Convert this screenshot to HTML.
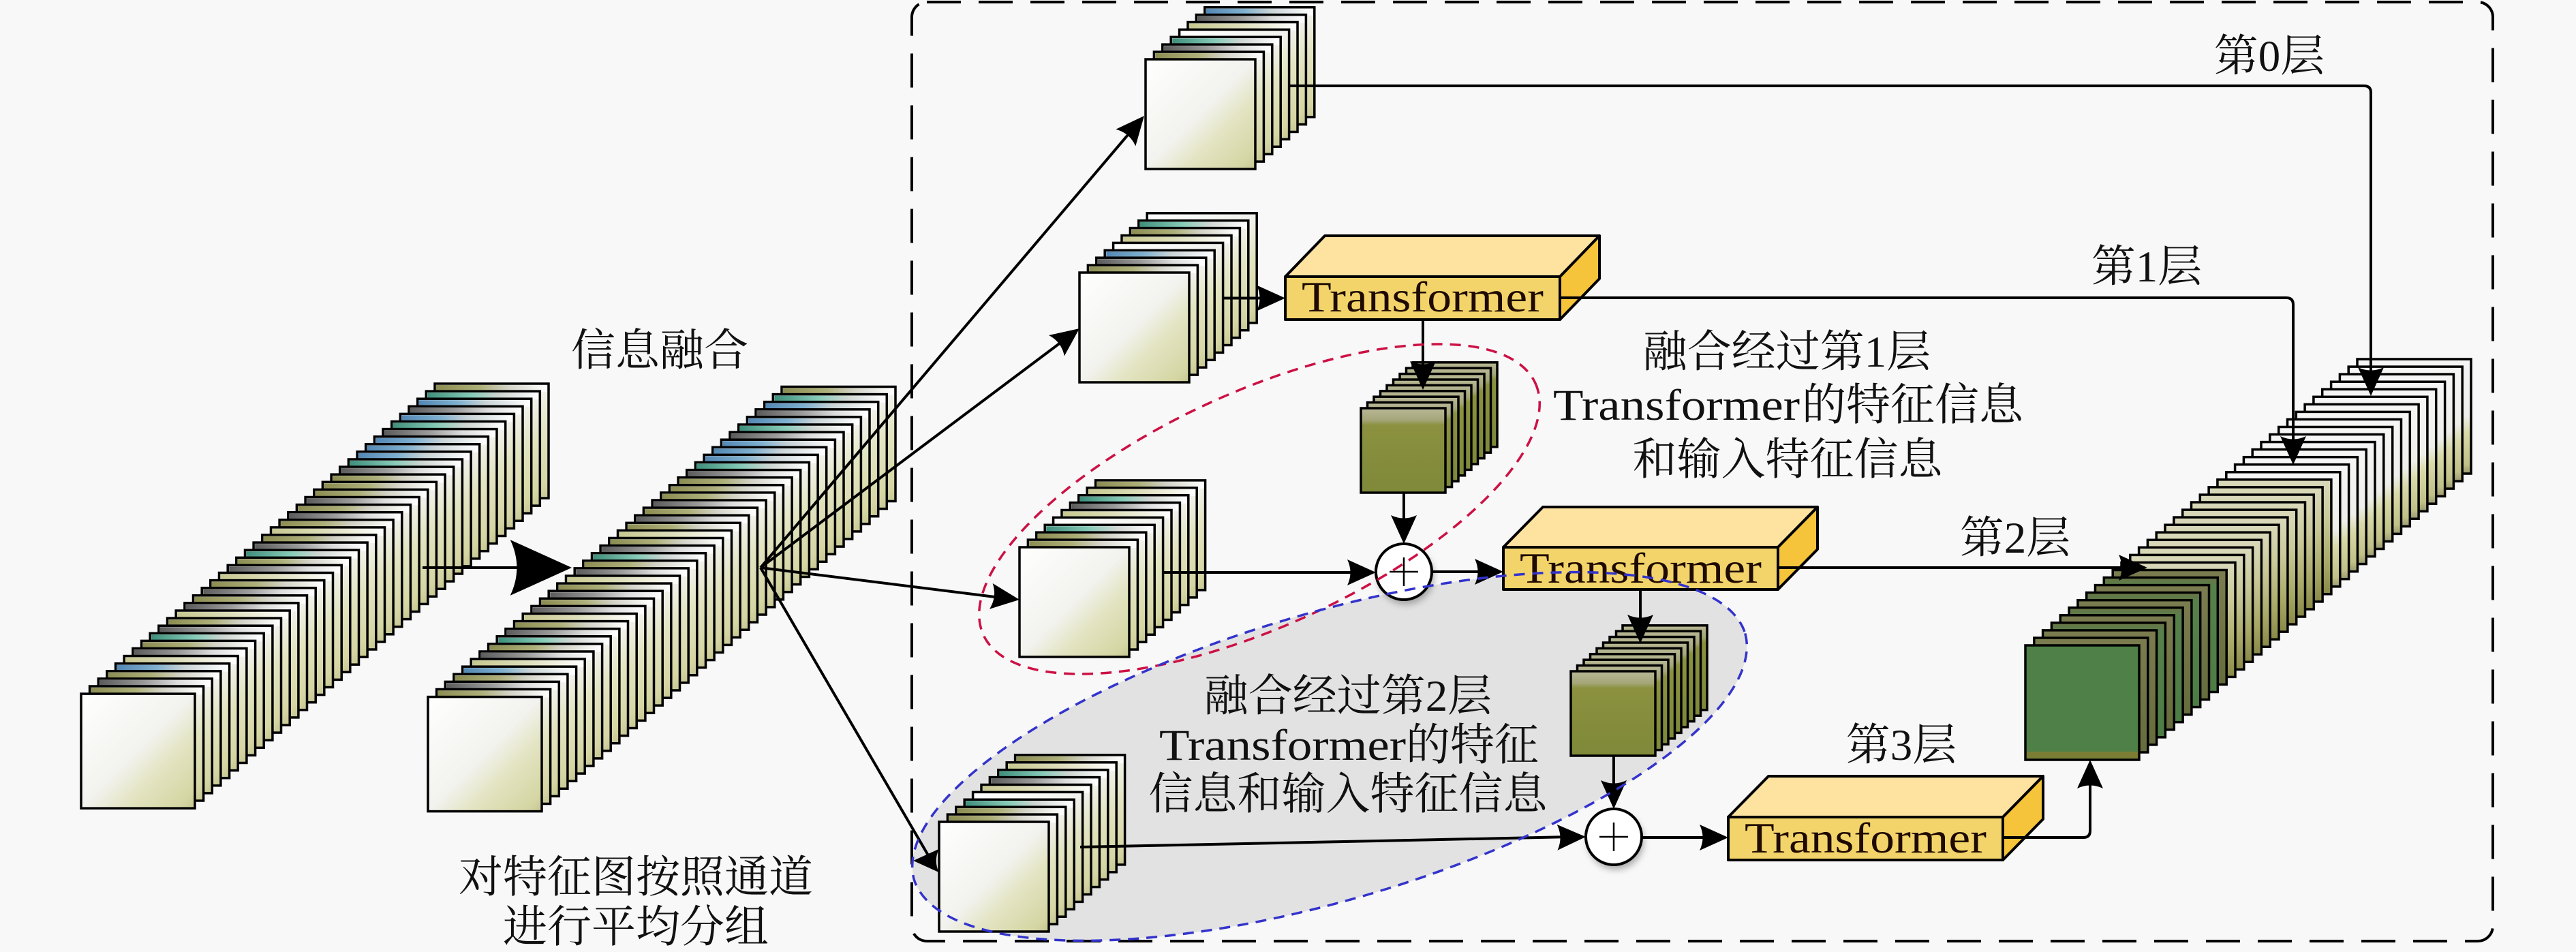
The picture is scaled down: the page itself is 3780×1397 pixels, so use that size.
<!DOCTYPE html>
<html><head><meta charset="utf-8">
<style>html,body{margin:0;padding:0;background:#f8f8f8;width:3780px;height:1397px;overflow:hidden;}svg{display:block}</style>
</head><body>
<svg xmlns="http://www.w3.org/2000/svg" xmlns:xlink="http://www.w3.org/1999/xlink" width="3780" height="1397" viewBox="0 0 3780 1397">
<defs>
 <linearGradient id="body" x1="0" y1="0" x2="1" y2="1">
  <stop offset="0" stop-color="#ffffff"/>
  <stop offset="0.5" stop-color="#f2f2ee"/>
  <stop offset="0.68" stop-color="#e3e4c2"/>
  <stop offset="0.92" stop-color="#d5d6a4"/>
  <stop offset="1" stop-color="#c4c590"/>
 </linearGradient>
 <linearGradient id="bB" x1="0" y1="0" x2="1" y2="0"><stop offset="0" stop-color="#5488b4"/><stop offset="0.35" stop-color="#7fb0cf"/><stop offset="0.6" stop-color="#c9d3d6"/><stop offset="1" stop-color="#ffffff"/></linearGradient>
 <linearGradient id="bT" x1="0" y1="0" x2="1" y2="0"><stop offset="0" stop-color="#3f8f7c"/><stop offset="0.4" stop-color="#86cbb8"/><stop offset="0.65" stop-color="#cfd6d2"/><stop offset="1" stop-color="#ffffff"/></linearGradient>
 <linearGradient id="bO" x1="0" y1="0" x2="1" y2="0"><stop offset="0" stop-color="#8c8d52"/><stop offset="0.4" stop-color="#aeb07a"/><stop offset="0.65" stop-color="#d3d3c8"/><stop offset="1" stop-color="#ffffff"/></linearGradient>
 <linearGradient id="bG" x1="0" y1="0" x2="1" y2="0"><stop offset="0" stop-color="#5c5c5c"/><stop offset="0.4" stop-color="#9a9a9a"/><stop offset="0.7" stop-color="#dcdcdc"/><stop offset="1" stop-color="#ffffff"/></linearGradient>
 <linearGradient id="bK" x1="0" y1="0" x2="1" y2="0"><stop offset="0" stop-color="#c7c890"/><stop offset="0.45" stop-color="#dcdcb8"/><stop offset="1" stop-color="#ffffff"/></linearGradient>
 <linearGradient id="rW" x1="0" y1="0" x2="0" y2="1"><stop offset="0" stop-color="#f6f6f6"/><stop offset="0.5" stop-color="#eeeeea"/><stop offset="0.65" stop-color="#d8d9a8"/><stop offset="0.92" stop-color="#c0c088"/><stop offset="1" stop-color="#9a9a70"/></linearGradient>
 <linearGradient id="rK" x1="0" y1="0" x2="0" y2="1"><stop offset="0" stop-color="#dadabc"/><stop offset="0.35" stop-color="#c8c898"/><stop offset="0.75" stop-color="#a6a764"/><stop offset="1" stop-color="#8a8a48"/></linearGradient>
 <linearGradient id="rG" x1="0" y1="0" x2="0" y2="1"><stop offset="0" stop-color="#6a7446"/><stop offset="0.08" stop-color="#56804a"/><stop offset="1" stop-color="#4c7d44"/></linearGradient>
 <linearGradient id="rO" x1="0" y1="0" x2="0" y2="1"><stop offset="0" stop-color="#7b7d50"/><stop offset="1" stop-color="#666c3c"/></linearGradient>
 <linearGradient id="gn" x1="0" y1="0" x2="0" y2="1"><stop offset="0" stop-color="#b8b896"/><stop offset="0.14" stop-color="#a5a679"/><stop offset="0.2" stop-color="#8b913f"/><stop offset="1" stop-color="#7f8939"/></linearGradient>
 <filter id="blur" x="-50%" y="-50%" width="200%" height="200%"><feGaussianBlur stdDeviation="5"/></filter>

 <g id="LW"><rect width="167" height="168" fill="url(#body)" stroke="#000" stroke-width="3.5"/></g>
 <g id="LO"><rect width="167" height="168" fill="url(#body)" stroke="#000" stroke-width="3.5"/><rect x="2" y="2" width="163" height="10" fill="url(#bO)"/></g>
 <g id="LT"><rect width="167" height="168" fill="url(#body)" stroke="#000" stroke-width="3.5"/><rect x="2" y="2" width="163" height="10" fill="url(#bT)"/></g>
 <g id="LB"><rect width="167" height="168" fill="url(#body)" stroke="#000" stroke-width="3.5"/><rect x="2" y="2" width="163" height="10" fill="url(#bB)"/></g>
 <g id="LG"><rect width="167" height="168" fill="url(#body)" stroke="#000" stroke-width="3.5"/><rect x="2" y="2" width="163" height="10" fill="url(#bG)"/></g>
 <g id="LK"><rect width="167" height="168" fill="url(#body)" stroke="#000" stroke-width="3.5"/><rect x="2" y="2" width="163" height="10" fill="url(#bK)"/></g>
 <g id="SW"><rect width="161" height="161" fill="url(#body)" stroke="#000" stroke-width="3.5"/></g>
 <g id="SO"><rect width="161" height="161" fill="url(#body)" stroke="#000" stroke-width="3.5"/><rect x="2" y="2" width="157" height="10" fill="url(#bO)"/></g>
 <g id="ST"><rect width="161" height="161" fill="url(#body)" stroke="#000" stroke-width="3.5"/><rect x="2" y="2" width="157" height="10" fill="url(#bT)"/></g>
 <g id="SB"><rect width="161" height="161" fill="url(#body)" stroke="#000" stroke-width="3.5"/><rect x="2" y="2" width="157" height="10" fill="url(#bB)"/></g>
 <g id="SG"><rect width="161" height="161" fill="url(#body)" stroke="#000" stroke-width="3.5"/><rect x="2" y="2" width="157" height="10" fill="url(#bG)"/></g>
 <g id="SK"><rect width="161" height="161" fill="url(#body)" stroke="#000" stroke-width="3.5"/><rect x="2" y="2" width="157" height="10" fill="url(#bK)"/></g>
 <g id="RW"><rect width="167" height="168" fill="url(#rW)" stroke="#000" stroke-width="3.5"/></g>
 <g id="RK"><rect width="167" height="168" fill="url(#rK)" stroke="#000" stroke-width="3.5"/></g>
 <g id="RG"><rect width="167" height="168" fill="url(#rG)" stroke="#000" stroke-width="3.5"/></g>
 <g id="RO"><rect width="167" height="168" fill="url(#rO)" stroke="#000" stroke-width="3.5"/></g>
 <g id="RF"><rect width="167" height="168" fill="#4f8048" stroke="#000" stroke-width="3.5"/><rect x="2" y="156" width="163" height="10" fill="#7c7d34"/></g>
 <g id="GN"><rect width="124" height="124" fill="url(#gn)" stroke="#000" stroke-width="3.5"/></g>

 <path id="ah" d="M0,0 L-42,-19 Q-33,0 -42,19 Z" fill="#000"/>

 <g id="stackA">
  <use href="#LO" x="638.0" y="563.0"/><use href="#LT" x="625.3" y="574.1"/><use href="#LB" x="612.7" y="585.2"/><use href="#LG" x="600.0" y="596.3"/>
  <use href="#LB" x="587.4" y="607.4"/><use href="#LT" x="574.7" y="618.5"/><use href="#LG" x="562.0" y="629.6"/><use href="#LB" x="549.4" y="640.7"/>
  <use href="#LB" x="536.7" y="651.8"/><use href="#LB" x="524.1" y="662.9"/><use href="#LT" x="511.4" y="674.0"/><use href="#LG" x="498.7" y="685.1"/>
  <use href="#LO" x="486.1" y="696.2"/><use href="#LO" x="473.4" y="707.3"/><use href="#LO" x="460.8" y="718.4"/><use href="#LG" x="448.1" y="729.5"/>
  <use href="#LO" x="435.4" y="740.6"/><use href="#LG" x="422.8" y="751.7"/><use href="#LO" x="410.1" y="762.8"/><use href="#LK" x="397.5" y="773.9"/>
  <use href="#LO" x="384.8" y="785.0"/><use href="#LG" x="372.1" y="796.1"/><use href="#LT" x="359.5" y="807.2"/><use href="#LO" x="346.8" y="818.3"/>
  <use href="#LG" x="334.2" y="829.4"/><use href="#LK" x="321.5" y="840.5"/><use href="#LO" x="308.8" y="851.6"/><use href="#LG" x="296.2" y="862.7"/>
  <use href="#LO" x="283.5" y="873.8"/><use href="#LG" x="270.9" y="884.9"/><use href="#LK" x="258.2" y="896.0"/><use href="#LO" x="245.5" y="907.1"/>
  <use href="#LG" x="232.9" y="918.2"/><use href="#LT" x="220.2" y="929.3"/><use href="#LO" x="207.6" y="940.4"/><use href="#LG" x="194.9" y="951.5"/>
  <use href="#LK" x="182.2" y="962.6"/><use href="#LB" x="169.6" y="973.7"/><use href="#LO" x="156.9" y="984.8"/><use href="#LG" x="144.3" y="995.9"/>
  <use href="#LO" x="131.6" y="1007.0"/><use href="#LW" x="119.0" y="1018.1"/>
 </g>
 <g id="s10">
  <use href="#SO" x="111.6" y="-98.1"/><use href="#SK" x="99.2" y="-87.2"/><use href="#ST" x="86.8" y="-76.3"/><use href="#SG" x="74.4" y="-65.4"/>
  <use href="#SK" x="62.0" y="-54.5"/><use href="#SW" x="49.6" y="-43.6"/><use href="#ST" x="37.2" y="-32.7"/><use href="#SO" x="24.8" y="-21.8"/>
  <use href="#SO" x="12.4" y="-10.9"/><use href="#SW" x="0" y="0"/>
 </g>
 <g id="s9">
  <use href="#SW" x="99.2" y="-87.2"/><use href="#ST" x="86.8" y="-76.3"/><use href="#SO" x="74.4" y="-65.4"/>
  <use href="#SK" x="62.0" y="-54.5"/><use href="#SW" x="49.6" y="-43.6"/><use href="#SB" x="37.2" y="-32.7"/><use href="#SG" x="24.8" y="-21.8"/>
  <use href="#SO" x="12.4" y="-10.9"/><use href="#SW" x="0" y="0"/>
 </g>
 <g id="s8">
  <use href="#SB" x="86.8" y="-76.3"/><use href="#SG" x="74.4" y="-65.4"/>
  <use href="#SK" x="62.0" y="-54.5"/><use href="#SW" x="49.6" y="-43.6"/><use href="#ST" x="37.2" y="-32.7"/><use href="#SG" x="24.8" y="-21.8"/>
  <use href="#SO" x="12.4" y="-10.9"/><use href="#SW" x="0" y="0"/>
 </g>
 <g id="gst">
  <use href="#GN" x="76" y="-67.2"/><use href="#GN" x="66.5" y="-58.8"/><use href="#GN" x="57" y="-50.4"/><use href="#GN" x="47.5" y="-42"/>
  <use href="#GN" x="38" y="-33.6"/><use href="#GN" x="28.5" y="-25.2"/><use href="#GN" x="19" y="-16.8"/><use href="#GN" x="9.5" y="-8.4"/>
  <use href="#GN" x="0" y="0"/>
 </g>
</defs>

<rect x="0" y="0" width="3780" height="1397" fill="#f8f8f8"/>

<path d="M2560.8,929.4 A636,212 -16.5 0 1 1341.2,1290.6 A636,212 -16.5 0 1 2560.8,929.4 Z" fill="#e2e2e2"/>

<rect x="1338" y="3" width="2320" height="1378" rx="22" fill="none" stroke="#000" stroke-width="4" stroke-dasharray="50 26"/>

<use href="#stackA"/>
<use href="#stackA" transform="translate(509,4.5)"/>

<use href="#s8" transform="translate(1681,87)"/>
<use href="#s9" transform="translate(1584,400)"/>
<use href="#s10" transform="translate(1496,803)"/>
<use href="#s10" transform="translate(1378,1206)"/>

<use href="#gst" transform="translate(1997,599)"/>
<use href="#gst" transform="translate(2305,985)"/>

<g>
 <use href="#RW" x="3459.0" y="527.0"/><use href="#RW" x="3446.2" y="538.1"/><use href="#RW" x="3433.4" y="549.1"/><use href="#RW" x="3420.6" y="560.2"/>
 <use href="#RW" x="3407.7" y="571.2"/><use href="#RW" x="3394.9" y="582.3"/><use href="#RW" x="3382.1" y="593.3"/><use href="#RW" x="3369.3" y="604.4"/>
 <use href="#RW" x="3356.5" y="615.4"/><use href="#RW" x="3343.7" y="626.5"/><use href="#RW" x="3330.8" y="637.5"/><use href="#RW" x="3318.0" y="648.6"/>
 <use href="#RW" x="3305.2" y="659.6"/><use href="#RW" x="3292.4" y="670.7"/><use href="#RW" x="3279.6" y="681.7"/><use href="#RW" x="3266.8" y="692.8"/>
 <use href="#RK" x="3253.9" y="703.8"/><use href="#RK" x="3241.1" y="714.9"/><use href="#RK" x="3228.3" y="726.0"/><use href="#RK" x="3215.5" y="737.0"/>
 <use href="#RK" x="3202.7" y="748.1"/><use href="#RK" x="3189.9" y="759.1"/><use href="#RK" x="3177.0" y="770.2"/><use href="#RK" x="3164.2" y="781.2"/>
 <use href="#RK" x="3151.4" y="792.3"/><use href="#RK" x="3138.6" y="803.3"/><use href="#RK" x="3125.8" y="814.4"/><use href="#RK" x="3113.0" y="825.4"/>
 <use href="#RO" x="3100.2" y="836.5"/><use href="#RG" x="3087.3" y="847.5"/><use href="#RO" x="3074.5" y="858.6"/><use href="#RG" x="3061.7" y="869.6"/>
 <use href="#RO" x="3048.9" y="880.7"/><use href="#RG" x="3036.1" y="891.7"/><use href="#RO" x="3023.3" y="902.8"/><use href="#RG" x="3010.4" y="913.9"/>
 <use href="#RO" x="2997.6" y="924.9"/><use href="#RO" x="2984.8" y="936.0"/><use href="#RF" x="2972.0" y="947.0"/>
</g>

<g stroke="#000" stroke-width="4" stroke-linejoin="round">
 <polygon points="1886,406 1944,346 2347,346 2289,406" fill="#fde2a0"/>
 <polygon points="2289,406 2347,346 2347,409 2289,469" fill="#f6c43a"/>
 <rect x="1886" y="406" width="403" height="63" fill="#f3d46a"/>
 <polygon points="2206,803 2264,744 2667,744 2609,803" fill="#fde2a0"/>
 <polygon points="2609,803 2667,744 2667,806 2609,865" fill="#f6c43a"/>
 <rect x="2206" y="803" width="403" height="62" fill="#f3d46a"/>
 <polygon points="2536,1199 2595,1139 2998,1139 2939,1199" fill="#fde2a0"/>
 <polygon points="2939,1199 2998,1139 2998,1202 2939,1262" fill="#f6c43a"/>
 <rect x="2536" y="1199" width="403" height="63" fill="#f3d46a"/>
</g>
<g font-family="'Liberation Serif','Noto Serif CJK SC',serif" font-size="64" fill="#1e0a00" text-anchor="middle">
 <text x="2087.5" y="457" textLength="355" lengthAdjust="spacingAndGlyphs">Transformer</text>
 <text x="2407.5" y="855" textLength="355" lengthAdjust="spacingAndGlyphs">Transformer</text>
 <text x="2737.5" y="1251" textLength="355" lengthAdjust="spacingAndGlyphs">Transformer</text>
</g>

<circle cx="2063" cy="846" r="41" fill="#777" opacity="0.6" filter="url(#blur)"/>
<circle cx="2060" cy="839" r="41" fill="#fff" stroke="#000" stroke-width="4"/>
<path d="M2039,839 H2081 M2060,818 V860" stroke="#000" stroke-width="2.5"/>
<circle cx="2371" cy="1235" r="41" fill="#777" opacity="0.6" filter="url(#blur)"/>
<circle cx="2368" cy="1228" r="41" fill="#fff" stroke="#000" stroke-width="4"/>
<path d="M2347,1228 H2389 M2368,1207 V1249" stroke="#000" stroke-width="2.5"/>

<g fill="none" stroke="#000" stroke-width="4">
 <path d="M620,833 H800"/>
 <path d="M1116,833 L1666,185"/>
 <path d="M1116,833 L1568,494"/>
 <path d="M1116,833 L1476,878"/>
 <path d="M1116,833 L1362,1255"/>
 <path d="M1795,437.5 H1866"/>
 <path d="M2088,469 V552"/>
 <path d="M2060,723 V778"/>
 <path d="M1706,840 H1999"/>
 <path d="M2101,839 H2186"/>
 <path d="M2407,865 V924"/>
 <path d="M2368,1110 V1167"/>
 <path d="M1585,1243 L2307,1228"/>
 <path d="M2409,1229 H2516"/>
 <path d="M2939,1229 H3057 Q3067,1229 3067,1219 V1135"/>
 <path d="M2609,833 H3131"/>
 <path d="M2289,437 H3355 Q3365,437 3365,447 V662"/>
 <path d="M1893,126 H3469 Q3479,126 3479,136 V561"/>
</g>

<use href="#ah" transform="translate(839,833) scale(2.15)"/>
<use href="#ah" transform="translate(1679,170) rotate(-49.7)"/>
<use href="#ah" transform="translate(1584,482) rotate(-36.9)"/>
<use href="#ah" transform="translate(1496,880) rotate(7.05)"/>
<use href="#ah" transform="translate(1340,1263) rotate(180) scale(0.9)"/>
<use href="#ah" transform="translate(1886,437.5)"/>
<use href="#ah" transform="translate(2088,572) rotate(90)"/>
<use href="#ah" transform="translate(2060,798) rotate(90)"/>
<use href="#ah" transform="translate(2019,840)"/>
<use href="#ah" transform="translate(2206,839)"/>
<use href="#ah" transform="translate(2407,944) rotate(90)"/>
<use href="#ah" transform="translate(2368,1187) rotate(90)"/>
<use href="#ah" transform="translate(2327,1228) rotate(-1.16)"/>
<use href="#ah" transform="translate(2536,1229)"/>
<use href="#ah" transform="translate(3067,1115) rotate(-90)"/>
<use href="#ah" transform="translate(3151,833)"/>
<use href="#ah" transform="translate(3479,581) rotate(90)"/>
<use href="#ah" transform="translate(3365,682) rotate(90)"/>

<path d="M2253.0,562.4 A445,172 -24.5 0 1 1443.0,931.6 A445,172 -24.5 0 1 2253.0,562.4 Z" fill="none" stroke="#cc1144" stroke-width="3.5" stroke-dasharray="16 11"/>
<path d="M2560.8,929.4 A636,212 -16.5 0 1 1341.2,1290.6 A636,212 -16.5 0 1 2560.8,929.4 Z" fill="none" stroke="#3333cc" stroke-width="3.5" stroke-dasharray="16 11"/>

<g font-family="'Liberation Serif','Noto Serif CJK SC',serif" font-size="65" fill="#111">
 <text x="968" y="536" text-anchor="middle">信息融合</text>
 <text x="933" y="1309" text-anchor="middle">对特征图按照通道</text>
 <text x="933" y="1382" text-anchor="middle">进行平均分组</text>
 <text x="2623" y="696" text-anchor="middle">和输入特征信息</text>
 <text x="1978" y="1187" text-anchor="middle">信息和输入特征信息</text>
 <text x="3330" y="104" text-anchor="middle">第0层</text>
 <text x="3150" y="413" text-anchor="middle">第1层</text>
 <text x="2957" y="811" text-anchor="middle">第2层</text>
 <text x="2790" y="1115" text-anchor="middle">第3层</text>
 <text x="2622" y="538" text-anchor="middle">融合经过第1层</text>
 <text x="2279" y="616" textLength="362" lengthAdjust="spacingAndGlyphs">Transformer</text>
 <text x="2644" y="616">的特征信息</text>
 <text x="1978" y="1043" text-anchor="middle">融合经过第2层</text>
 <text x="1701" y="1115" textLength="362" lengthAdjust="spacingAndGlyphs">Transformer</text>
 <text x="2063" y="1115">的特征</text>
</g>
</svg>
</body></html>
